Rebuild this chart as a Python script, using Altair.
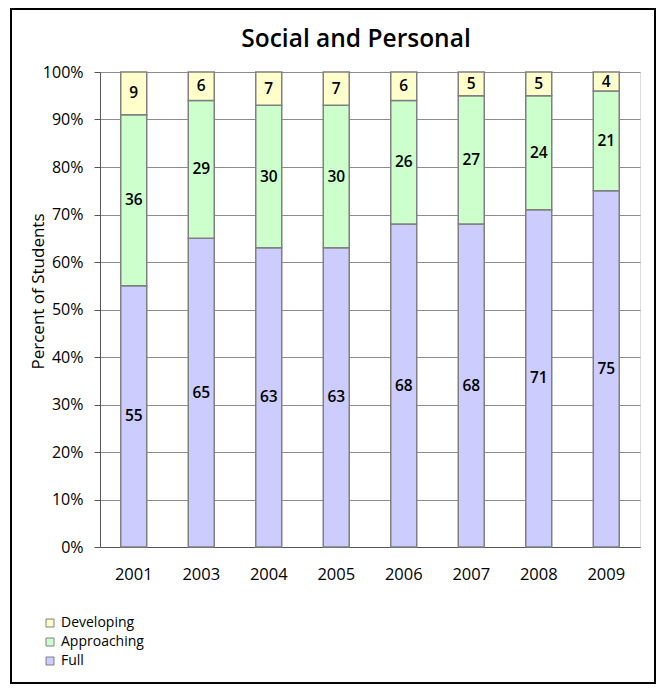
import altair as alt
import pandas as pd

years = ["2001", "2003", "2004", "2005", "2006", "2007", "2008", "2009"]
full = [55, 65, 63, 63, 68, 68, 71, 75]
approaching = [36, 29, 30, 30, 26, 27, 24, 21]
developing = [9, 6, 7, 7, 6, 5, 5, 4]

categories = ["Developing", "Approaching", "Full"]
colors = ["#FFFFCC", "#CCFFCC", "#CCCCFF"]
stack_rank = {"Full": 0, "Approaching": 1, "Developing": 2}
title_text = "Social and Personal"

rows = []
for i, y in enumerate(years):
    for cat, vals in (("Full", full), ("Approaching", approaching), ("Developing", developing)):
        rows.append({"year": y, "cat": cat, "value": vals[i], "rank": stack_rank[cat]})
df = pd.DataFrame(rows)

FONT = "Open Sans"

base = alt.Chart(df).transform_stack(
    stack="value", groupby=["year"], as_=["y0", "y1"],
    sort=[alt.SortField("rank", order="ascending")]
).transform_calculate(mid="(datum.y0 + datum.y1) / 2")

xenc = alt.X("year:N", title=None, sort=years,
             scale=alt.Scale(paddingInner=0.615, paddingOuter=0.3075),
             axis=alt.Axis(labelAngle=0, ticks=False, labelFontSize=16.5,
                           labelColor="#000000", labelPadding=19, domainColor="#555555",
                           labelFont=FONT, grid=False))

bars = base.mark_bar(stroke="#808080", strokeWidth=1.5).encode(
    x=xenc,
    y=alt.Y("y0:Q", title="Percent of Students",
            scale=alt.Scale(domain=[0, 100], nice=False),
            axis=alt.Axis(values=list(range(0, 101, 10)), labelExpr="datum.value + '%'",
                          tickSize=6, tickColor="#555555", domainColor="#555555",
                          gridColor="#8C8C8C", labelFontSize=16, labelColor="#000000",
                          labelPadding=11, titleFontSize=17, titleFontWeight="normal",
                          titleColor="#000000", titleX=-53, titleY=219, labelFont=FONT,
                          titleFont=FONT)),
    y2="y1:Q",
    color=alt.Color("cat:N", scale=alt.Scale(domain=categories, range=colors),
                    legend=alt.Legend(title=None, orient="none", legendX=-57, legendY=544,
                                      symbolType="square", symbolSize=64,
                                      symbolStrokeColor="#808080", symbolStrokeWidth=1,
                                      labelFontSize=14, labelFont=FONT, labelColor="#000000",
                                      rowPadding=5, symbolOpacity=1)),
)

labels = base.mark_text(fontSize=15.5, font=FONT, color="#000000", fontWeight=600).encode(
    x=alt.X("year:N", sort=years),
    y=alt.Y("mid:Q"),
    text=alt.Text("value:Q"),
)

one = pd.DataFrame({"a": [0]})

frame = alt.Chart(one).mark_rect(
    fill=None, stroke="#000000", strokeWidth=2
).encode(
    x=alt.value(-89), x2=alt.value(555), y=alt.value(-63), y2=alt.value(611)
)

title = alt.Chart(one).mark_text(
    fontSize=24.5, font=FONT, fontWeight=600, color="#000000",
    align="center", baseline="middle"
).encode(
    x=alt.value(256), y=alt.value(-32), text=alt.value(title_text)
)

chart = alt.layer(bars, labels, frame, title).properties(
    width=540, height=475,
    autosize=alt.AutoSizeParams(type="none"),
    padding={"left": 92, "top": 64, "right": 16, "bottom": 137},
).configure_view(stroke=None).configure(background="white")

chart.save("out.html", embed_options={"renderer": "svg", "actions": False})
